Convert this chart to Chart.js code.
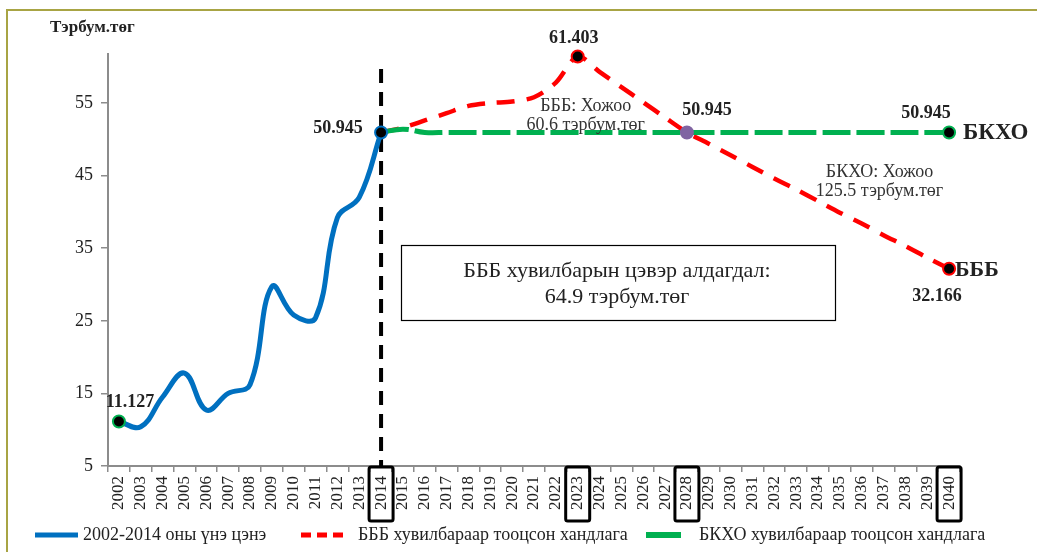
<!DOCTYPE html>
<html><head><meta charset="utf-8">
<script src="https://cdn.jsdelivr.net/npm/chart.js@4.4.1/dist/chart.umd.min.js"></script>
<style>html,body{margin:0;padding:0;background:#fff;overflow:hidden}#wrap{position:relative;width:1037px;height:552px}</style>
</head><body><div id="wrap"><canvas id="c"></canvas></div>
<script>
const years = ['2002','2003','2004','2005','2006','2007','2008','2009','2010','2011','2012','2013','2014','2015','2016','2017','2018','2019','2020','2021','2022','2023','2024','2025','2026','2027','2028','2029','2030','2031','2032','2033','2034','2035','2036','2037','2038','2039','2040'];
const seriesNames = ['2002-2014 оны үнэ цэнэ','БББ хувилбараар тооцсон хандлага','БКХО хувилбараар тооцсон хандлага'];
// 2002-2014
const actualValues = [11.127,10.4,14.5,17.8,12.7,15.0,16.2,29.7,25.8,25.4,39.2,42.0,50.945];
// 2014-2040
const bbbValues = [50.945,51.6,52.6,53.6,54.6,55.0,55.2,55.8,57.8,61.403,59.3,57.2,55.1,53.0,50.945,49.4,47.8,46.2,44.6,43.1,41.5,39.9,38.4,36.8,35.3,33.7,32.166];
const bkhoValues = [50.945,51.4,50.945,50.945,50.945,50.945,50.945,50.945,50.945,50.945,50.945,50.945,50.945,50.945,50.945,50.945,50.945,50.945,50.945,50.945,50.945,50.945,50.945,50.945,50.945,50.945,50.945];
const yTickValues = [5,15,25,35,45,55];
const highlightYears = ['2014','2023','2028','2040'];
const yAxisTitle = 'Тэрбум.төг';
const boxText = ['БББ хувилбарын цэвэр алдагдал:','64.9 тэрбум.төг'];
const noteBBB = ['БББ: Хожоо','60.6 тэрбум.төг'];
const noteBKHO = ['БКХО: Хожоо','125.5 тэрбум.төг'];
const endLabels = ['БКХО','БББ'];

const n = years.length;
const startIdx = years.indexOf('2014');
const actualData = actualValues.concat(Array(n - actualValues.length).fill(null));
const bbbData = Array(startIdx).fill(null).concat(bbbValues);
const bkhoData = Array(startIdx).fill(null).concat(bkhoValues);
const i2023 = years.indexOf('2023'), i2028 = years.indexOf('2028'), iLast = n - 1;

const SERIF = '"Liberation Serif","Times New Roman",serif';
const BLUE = '#0070C0', RED = '#FF0000', GREEN = '#00B050', PURPLE = '#8064A2';

const overlay = {
  id: 'overlay',
  beforeDraw(chart) {
    const ctx = chart.ctx;
    ctx.save();
    ctx.fillStyle = '#fff'; ctx.fillRect(0, 0, chart.width, chart.height);
    ctx.strokeStyle = '#A8A444'; ctx.lineWidth = 2;
    ctx.beginPath(); ctx.moveTo(7, chart.height); ctx.lineTo(7, 10); ctx.lineTo(chart.width, 10); ctx.stroke();
    ctx.restore();
  },
  beforeDatasetsDraw(chart) {
    const ctx = chart.ctx, xs = chart.scales.x, ca = chart.chartArea;
    const x = xs.getPixelForValue(startIdx);
    ctx.save();
    ctx.strokeStyle = '#000'; ctx.lineWidth = 4; ctx.setLineDash([14, 9]);
    ctx.beginPath(); ctx.moveTo(x, ca.top + 15); ctx.lineTo(x, ca.bottom); ctx.stroke();
    ctx.restore();
  },
  afterDraw(chart) {
    const ctx = chart.ctx, xs = chart.scales.x, ys = chart.scales.y, ca = chart.chartArea;
    const pt = (ds, i) => chart.getDatasetMeta(ds).data[i];
    ctx.save();
    ctx.fillStyle = '#222';
    // axis title
    ctx.font = 'bold 17px ' + SERIF; ctx.textAlign = 'left'; ctx.textBaseline = 'middle';
    ctx.fillText(yAxisTitle, 50, 28);
    // value labels
    ctx.font = 'bold 18px ' + SERIF; ctx.textAlign = 'center';
    let p = pt(0, 0); ctx.fillText(actualValues[0].toFixed(3), p.x + 11, p.y - 19);
    p = pt(0, startIdx); ctx.fillText(actualValues[actualValues.length - 1].toFixed(3), p.x - 43, p.y - 4);
    p = pt(1, i2023); ctx.fillText(bbbData[i2023].toFixed(3), p.x - 4, p.y - 18);
    p = pt(2, i2028); ctx.fillText(bkhoData[i2028].toFixed(3), p.x + 20, p.y - 22);
    p = pt(2, iLast); ctx.fillText(bkhoData[iLast].toFixed(3), p.x - 23, p.y - 19);
    p = pt(1, iLast); ctx.fillText(bbbData[iLast].toFixed(3), p.x - 12, p.y + 28);
    // end labels
    ctx.textAlign = 'left';
    ctx.font = 'bold 23px ' + SERIF;
    p = pt(2, iLast); ctx.fillText(endLabels[0], p.x + 14, p.y + 1);
    ctx.font = 'bold 22px ' + SERIF;
    p = pt(1, iLast); ctx.fillText(endLabels[1], p.x + 6, p.y + 2);
    // notes
    ctx.font = '18px ' + SERIF; ctx.textAlign = 'center'; ctx.fillStyle = '#333';
    const bx = xs.getPixelForValue(i2023) + 8, by = ys.getPixelForValue(50.945);
    ctx.fillText(noteBBB[0], bx, by - 26); ctx.fillText(noteBBB[1], bx, by - 7);
    const kx = xs.getPixelForValue(years.indexOf('2037')) - 4;
    ctx.fillText(noteBKHO[0], kx, by + 40); ctx.fillText(noteBKHO[1], kx, by + 59);
    // text box
    ctx.strokeStyle = '#000'; ctx.lineWidth = 1.2;
    ctx.strokeRect(401.5, 245.5, 434, 75);
    ctx.fillStyle = '#222'; ctx.font = '22px ' + SERIF;
    ctx.fillText(boxText[0], 617, 271); ctx.fillText(boxText[1], 617, 297);
    // boxes around highlighted tick labels
    ctx.lineWidth = 3; ctx.strokeStyle = '#000';
    highlightYears.forEach(y => {
      const x = xs.getPixelForValue(years.indexOf(y));
      ctx.beginPath(); ctx.roundRect(x - 12, ca.bottom + 1, 24, 54, 2); ctx.stroke();
    });
    // legend
    const ly = 535;
    ctx.font = '18px ' + SERIF; ctx.textAlign = 'left'; ctx.fillStyle = '#222';
    ctx.lineWidth = 5;
    ctx.strokeStyle = BLUE; ctx.setLineDash([]);
    ctx.beginPath(); ctx.moveTo(35, ly); ctx.lineTo(78, ly); ctx.stroke();
    ctx.fillText(seriesNames[0], 83, ly);
    ctx.strokeStyle = RED; ctx.setLineDash([10, 6]);
    ctx.beginPath(); ctx.moveTo(301, ly); ctx.lineTo(347, ly); ctx.stroke();
    ctx.fillText(seriesNames[1], 358, ly);
    ctx.strokeStyle = GREEN; ctx.setLineDash([]); ctx.lineWidth = 6;
    ctx.beginPath(); ctx.moveTo(646, ly); ctx.lineTo(681, ly); ctx.stroke();
    ctx.fillText(seriesNames[2], 699, ly);
    ctx.restore();
  }
};

const radiusAt = (idxs, r) => ctx => idxs.includes(ctx.dataIndex) ? r : 0;

new Chart(document.getElementById('c'), {
  type: 'line',
  data: {
    labels: years,
    datasets: [
      {
        label: seriesNames[0], data: actualData, borderColor: BLUE, borderWidth: 5,
        tension: 0.4, clip: false, order: 0,
        pointRadius: radiusAt([0, startIdx], 6),
        pointBackgroundColor: '#000',
        pointBorderColor: ctx => ctx.dataIndex === 0 ? GREEN : BLUE,
        pointBorderWidth: 2
      },
      {
        label: seriesNames[1], data: bbbData, borderColor: RED, borderWidth: 4.5,
        borderDash: [18, 12], tension: 0.3, clip: false, order: 2,
        pointRadius: radiusAt([i2023, iLast], 6),
        pointBackgroundColor: '#000', pointBorderColor: RED, pointBorderWidth: 2
      },
      {
        label: seriesNames[2], data: bkhoData, borderColor: GREEN, borderWidth: 5,
        borderDash: [28, 6], tension: 0.4, clip: false, order: 1,
        pointRadius: radiusAt([i2028, iLast], 6),
        pointBackgroundColor: ctx => ctx.dataIndex === i2028 ? PURPLE : '#000',
        pointBorderColor: ctx => ctx.dataIndex === i2028 ? PURPLE : GREEN,
        pointBorderWidth: 2
      }
    ]
  },
  options: {
    responsive: true, maintainAspectRatio: false, animation: false,
    layout: { padding: { top: 54, left: 0, right: 77, bottom: 26 } },
    plugins: { legend: { display: false }, tooltip: { enabled: false } },
    scales: {
      x: {
        offset: true,
        grid: { display: true, drawOnChartArea: false, drawTicks: true, tickLength: 6, offset: true, color: '#8c8c8c', lineWidth: 1.5 },
        border: { display: true, color: '#8c8c8c', width: 2 },
        ticks: { autoSkip: false, maxRotation: 90, minRotation: 90, padding: 4, color: '#222', font: { family: SERIF, size: 17 } },
        afterFit: s => { s.height = 60; }
      },
      y: {
        min: 5, max: 61.75,
        afterBuildTicks: s => { s.ticks = yTickValues.map(v => ({ value: v })); },
        grid: { display: true, drawOnChartArea: false, drawTicks: true, tickLength: 7, color: '#8c8c8c', lineWidth: 1.5 },
        border: { display: true, color: '#8c8c8c', width: 2 },
        ticks: { padding: 8, color: '#222', font: { family: SERIF, size: 18 } },
        afterFit: s => { s.width = 108; }
      }
    }
  },
  plugins: [overlay]
});
</script></body></html>
